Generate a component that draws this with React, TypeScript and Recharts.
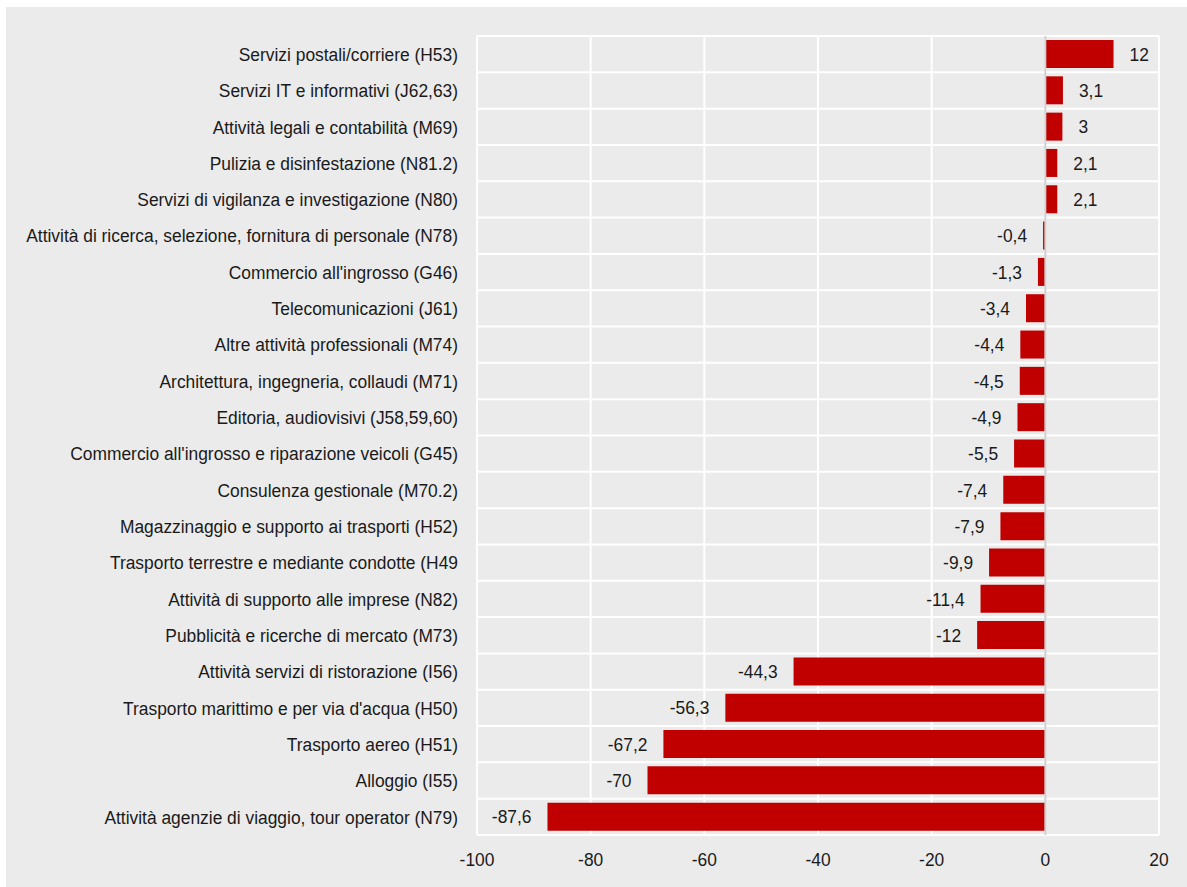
import { BarChart, Bar, XAxis, YAxis, CartesianGrid, ReferenceLine, LabelList } from "recharts";

const categories = [
  "Servizi postali/corriere (H53)",
  "Servizi IT e informativi (J62,63)",
  "Attività legali e contabilità (M69)",
  "Pulizia e disinfestazione (N81.2)",
  "Servizi di vigilanza e investigazione (N80)",
  "Attività di ricerca, selezione, fornitura di personale (N78)",
  "Commercio all'ingrosso (G46)",
  "Telecomunicazioni (J61)",
  "Altre attività professionali (M74)",
  "Architettura, ingegneria, collaudi (M71)",
  "Editoria, audiovisivi (J58,59,60)",
  "Commercio all'ingrosso e riparazione veicoli (G45)",
  "Consulenza gestionale (M70.2)",
  "Magazzinaggio e supporto ai trasporti (H52)",
  "Trasporto terrestre e mediante condotte (H49",
  "Attività di supporto alle imprese (N82)",
  "Pubblicità e ricerche di mercato (M73)",
  "Attività servizi di ristorazione (I56)",
  "Trasporto marittimo e per via d'acqua (H50)",
  "Trasporto aereo (H51)",
  "Alloggio (I55)",
  "Attività agenzie di viaggio, tour operator (N79)",
];

const values = [
  12, 3.1, 3, 2.1, 2.1, -0.4, -1.3, -3.4, -4.4, -4.5, -4.9, -5.5, -7.4, -7.9, -9.9, -11.4, -12, -44.3,
  -56.3, -67.2, -70, -87.6,
];

const xTicks = [-100, -80, -60, -40, -20, 0, 20];

const data = categories.map((name, i) => ({ name, value: values[i] }));

const FONT = "'Liberation Sans', Arial, sans-serif";
const SIZE = 19;
const TEXT = "#1a1a1a";
// the original uses a narrow face; squeeze the regular one to match
const SQUEEZE = 0.915;

const fmt = (v: number) => String(v).replace(".", ",");

function NarrowText({ x, y, anchor, dy, children }: any) {
  return (
    <g transform={`translate(${x},${y}) scale(${SQUEEZE},1)`}>
      <text x={0} y={0} dy={dy} textAnchor={anchor} fontFamily={FONT} fontSize={SIZE} fill={TEXT}>
        {children}
      </text>
    </g>
  );
}

function CategoryTick(props: any) {
  const { x, y, payload } = props;
  return (
    <NarrowText x={x} y={y} anchor="end" dy="0.355em">
      {payload.value}
    </NarrowText>
  );
}

function ValueTick(props: any) {
  const { x, y, payload } = props;
  return (
    <NarrowText x={x} y={y} anchor="middle" dy="0.71em">
      {payload.value}
    </NarrowText>
  );
}

function ValueLabel(props: any) {
  const { x, y, width, height, value } = props;
  const left = Math.min(x, x + width);
  const right = Math.max(x, x + width);
  const neg = value < 0;
  return (
    <NarrowText x={neg ? left - 16 : right + 16} y={y + height / 2} anchor={neg ? "end" : "start"} dy="0.355em">
      {fmt(value)}
    </NarrowText>
  );
}

// horizontal grid lines sit between the categories, not through them
const rowBoundaries = ({ offset }: any) =>
  Array.from({ length: categories.length + 1 }, (_, i) => offset.top + (i * offset.height) / categories.length);

export default function App() {
  return (
    <div style={{ position: "absolute", left: 6, top: 7, width: 1181, height: 880, background: "#ebebeb" }}>
      <BarChart
        width={1181}
        height={880}
        data={data}
        layout="vertical"
        margin={{ top: 29, right: 28, bottom: 22, left: 0 }}
        barCategoryGap="11%"
      >
        <CartesianGrid stroke="#ffffff" strokeWidth={2} horizontalCoordinatesGenerator={rowBoundaries} />
        <XAxis
          type="number"
          domain={[-100, 20]}
          ticks={xTicks}
          axisLine={false}
          tickLine={false}
          tickSize={0}
          tickMargin={18}
          height={30}
          tick={<ValueTick />}
        />
        <YAxis
          type="category"
          dataKey="name"
          width={471}
          axisLine={false}
          tickLine={false}
          tickSize={0}
          tickMargin={19}
          interval={0}
          tick={<CategoryTick />}
        />
        <Bar dataKey="value" fill="#c00000" isAnimationActive={false}>
          <LabelList dataKey="value" content={ValueLabel} />
        </Bar>
        <ReferenceLine x={0} stroke="#cfcfcf" strokeWidth={2} />
      </BarChart>
    </div>
  );
}
